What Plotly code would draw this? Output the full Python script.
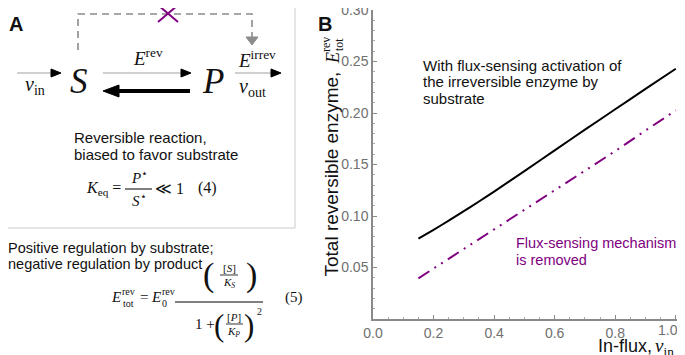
import plotly.graph_objects as go

# ---------------- data ----------------
nu_in = [0.15, 0.20, 0.25, 0.30, 0.35, 0.40, 0.50, 0.60, 0.70, 0.80, 0.90, 1.00]
E_with_sensing = [0.078, 0.0866, 0.0955, 0.1047, 0.1141, 0.1237, 0.1436, 0.1637, 0.1838, 0.2036, 0.2234, 0.243]
E_sensing_removed = [0.0395, 0.049, 0.0585, 0.068, 0.0775, 0.087, 0.106, 0.1245, 0.144, 0.163, 0.183, 0.2025]
x_tick_vals = [0.0, 0.2, 0.4, 0.6, 0.8, 1.0]
x_tick_text = ["0.0", "0.2", "0.4", "0.6", "0.8", "1.0"]
y_tick_vals = [0.05, 0.10, 0.15, 0.20, 0.25, 0.30]
y_tick_text = ["0.05", "0.10", "0.15", "0.20", "0.25", "0.30"]

OFF = 8  # the page places the figure 8 px from the window's corner
W, H = 685 - OFF, 355 - OFF  # so the page does not overflow the window
SANS = "Liberation Sans"
SERIF = "Liberation Serif"
PURPLE = "#800080"
GRAY_AX = "#8a8a8a"
TICK_GRAY = "#707070"


def X(p):
    return (p - OFF) / W


def Y(p):
    return 1 - (p - OFF) / H


fig = go.Figure()

fig.add_trace(go.Scatter(x=nu_in, y=E_with_sensing, mode="lines",
                         line=dict(color="black", width=2, shape="spline", smoothing=0.6),
                         showlegend=False, hoverinfo="skip"))
fig.add_trace(go.Scatter(x=nu_in, y=E_sensing_removed, mode="lines",
                         line=dict(color=PURPLE, width=2,
                                   dash="13px,6px,2px,6px,2px,6px"),
                         showlegend=False, hoverinfo="skip"))

annotations = []
shapes = []


def text(x, y, s, size, family=SANS, color="#111111", xanchor="center",
         yanchor="middle", angle=0):
    annotations.append(dict(x=X(x), y=Y(y), xref="paper", yref="paper",
                            text=s, showarrow=False, xanchor=xanchor,
                            yanchor=yanchor, textangle=angle,
                            borderpad=0, borderwidth=0,
                            font=dict(size=size, family=family, color=color)))


def line(x0, y0, x1, y1, color="black", width=1, dash=None):
    ln = dict(color=color, width=width)
    if dash:
        ln["dash"] = dash
    shapes.append(dict(type="line", xref="paper", yref="paper",
                       x0=X(x0), y0=Y(y0), x1=X(x1), y1=Y(y1), line=ln))


def path(points, color, width=1, fill=None, dash=None, close=False):
    d = "M " + " L ".join(f"{X(a):.5f} {Y(b):.5f}" for a, b in points)
    if close:
        d += " Z"
    ln = dict(color=color, width=width)
    if dash:
        ln["dash"] = dash
    shp = dict(type="path", xref="paper", yref="paper", path=d, line=ln)
    if fill:
        shp["fillcolor"] = fill
    shapes.append(shp)


# ---------------- panel A : frame ----------------
shapes.append(dict(type="rect", xref="paper", yref="paper",
                   x0=X(1), y0=Y(1), x1=X(295), y1=Y(228),
                   line=dict(color="#cccccc", width=1)))
text(16, 24, "<b>A</b>", 20)

# dashed regulation path with purple cross
path([(78, 50), (78, 14), (252, 14), (252, 37)], "#8c8c8c", width=1.6,
     dash="7px,5px")
path([(246, 37), (258, 37), (252, 45)], "#8c8c8c", fill="#8c8c8c", close=True)
line(158, 5, 178, 22, PURPLE, 2)
line(158, 22, 178, 5, PURPLE, 2)

# reaction arrows
line(17, 73, 52, 73, "#a0a0a0", 1)
path([(61, 73), (51, 69), (51, 77)], "black", fill="black", close=True)
line(103, 73, 182, 73, "#a0a0a0", 1)
path([(191, 73), (181, 69), (181, 77)], "black", fill="black", close=True)
line(235, 73, 271, 73, "#a0a0a0", 1)
path([(281, 73), (271, 69), (271, 77)], "black", fill="black", close=True)
line(117, 91, 190, 91, "black", 4)
path([(103, 91), (119, 85), (119, 97)], "black", fill="black", close=True)

# species and enzyme labels
text(35, 86, "<i>ν</i><sub>in</sub>", 20, SERIF)
text(79, 81, "<i>S</i>", 35, SERIF)
text(213, 81, "<i>P</i>", 35, SERIF)
text(148, 57, "<i>E</i><sup>rev</sup>", 19, SERIF)
text(257, 59, "<i>E</i><sup>irrev</sup>", 19, SERIF)
text(252, 87, "<i>ν</i><sub>out</sub>", 20, SERIF)

text(74, 137, "Reversible reaction,", 15, xanchor="left")
text(74, 154, "biased to favor substrate", 15, xanchor="left")

# equation (4)
text(121, 188, "<i>K</i><sub>eq</sub> =", 16, SERIF, xanchor="right")
text(139, 177, "<i>P</i><sup>⋆</sup>", 15, SERIF)
line(125, 189, 152, 189, "black", 1)
text(139, 200, "<i>S</i><sup>⋆</sup>", 15, SERIF)
text(155, 188, "≪ 1", 16, SERIF, xanchor="left")
text(198, 188, "(4)", 16, SERIF, xanchor="left")

# ---------------- text under panel A ----------------
text(8, 248, "Positive regulation by substrate;", 14.5, xanchor="left")
text(8, 264, "negative regulation by product", 14.5, xanchor="left")

# equation (5)
text(116, 297, "<i>E</i>", 15, SERIF)
text(128, 291, "rev", 10, SERIF)
text(128, 303, "tot", 10, SERIF)
text(144, 297, "=", 15, SERIF)
text(156, 297, "<i>E</i>", 15, SERIF)
text(168, 291, "rev", 10, SERIF)
text(164, 303, "0", 10, SERIF)
line(175, 302, 263, 302, "black", 1)
text(208, 275, "(", 34, SERIF)
text(251, 275, ")", 34, SERIF)
text(229, 268, "[<i>S</i>]", 11, SERIF)
line(220, 275, 238, 275, "black", 0.8)
text(229, 283, "<i>K</i><sub><i>S</i></sub>", 11, SERIF)
text(205, 324, "1 +", 15, SERIF)
text(219, 325, "(", 31, SERIF)
text(249, 325, ")", 31, SERIF)
text(234, 317, "[<i>P</i>]", 11, SERIF)
line(226, 324, 243, 324, "black", 0.8)
text(234, 332, "<i>K</i><sub><i>P</i></sub>", 11, SERIF)
text(259, 311, "2", 10, SERIF)
text(294, 297, "(5)", 15, SERIF)

# ---------------- panel B ----------------
text(325, 24, "<b>B</b>", 20)
text(331, 277, "Total reversible enzyme,", 19, angle=-90, yanchor="bottom")
text(333, 58, "<i>E</i>", 18, SERIF, angle=-90)
text(326, 45, "rev", 12, SERIF, angle=-90)
text(339, 45, "tot", 12, SERIF, angle=-90)
text(652, 346, "In-flux,", 18, xanchor="right")
text(655, 347, "<i>ν</i><sub>in</sub>", 19, SERIF, xanchor="left")

text(423, 65, "With flux-sensing activation of", 15, xanchor="left")
text(423, 82, "the irreversible enzyme by", 15, xanchor="left")
text(423, 99, "substrate", 15, xanchor="left")
text(516, 243, "Flux-sensing mechanism", 14.5, color=PURPLE, xanchor="left")
text(516, 260, "is removed", 14.5, color=PURPLE, xanchor="left")

# last x tick label: placed at its axis value, nudged left so it stays in view
annotations.append(dict(x=x_tick_vals[-1], y=Y(330), xref="x", yref="paper",
                        text=x_tick_text[-1], showarrow=False, xshift=-8,
                        xanchor="center", yanchor="middle", borderpad=0,
                        font=dict(size=14, color=TICK_GRAY, family=SANS)))
axis_x_text = x_tick_text[:-1] + [""]

fig.update_layout(
    width=W, height=H,
    margin=dict(l=0, r=0, t=0, b=0, autoexpand=False),
    paper_bgcolor="white", plot_bgcolor="white",
    font=dict(family=SANS, color="#111111"),
    annotations=annotations, shapes=shapes,
    xaxis=dict(domain=[X(373), X(677)], range=[0, 1.004], automargin=False,
               showline=True, linecolor=GRAY_AX, linewidth=1.5,
               ticks="inside", ticklen=4, tickcolor=GRAY_AX, tickwidth=1,
               tickvals=x_tick_vals, ticktext=axis_x_text,
               ticklabeloverflow="allow",
               tickfont=dict(size=14, color=TICK_GRAY, family=SANS),
               showgrid=False, zeroline=False,
               minor=dict(ticks="inside", ticklen=2, dtick=0.05, tick0=0,
                          tickcolor="#aaaaaa", showgrid=False)),
    yaxis=dict(domain=[Y(319), Y(10)], range=[0, 0.30], automargin=False,
               showline=True, linecolor=GRAY_AX, linewidth=1.5,
               ticks="inside", ticklen=4, tickcolor=GRAY_AX, tickwidth=1,
               tickvals=y_tick_vals, ticktext=y_tick_text,
               ticklabeloverflow="allow",
               tickfont=dict(size=14, color=TICK_GRAY, family=SANS),
               showgrid=False, zeroline=False,
               minor=dict(ticks="inside", ticklen=2, dtick=0.01, tick0=0,
                          tickcolor="#aaaaaa", showgrid=False)),
)

fig.write_html("out.html", config=dict(displayModeBar=False))
